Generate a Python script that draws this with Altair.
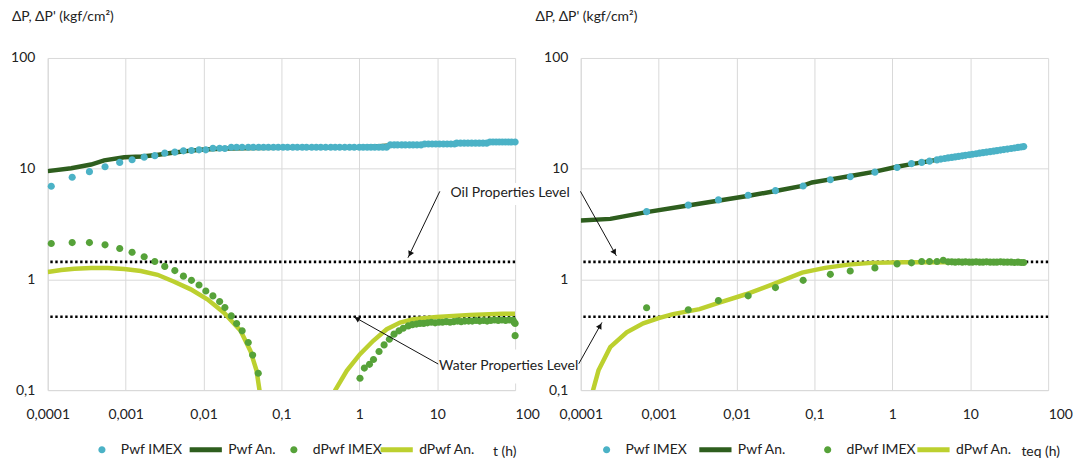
import altair as alt
import pandas as pd

FONT = "Lato, sans-serif"
SERIES = ["Pwf IMEX", "Pwf An.", "dPwf IMEX", "dPwf An."]
COLORS = ["#4BB2C6", "#2E5E1E", "#56A239", "#BCD02F"]
CIRCLE = "M0,-0.2A0.2,0.2 0 1,1 0,0.2A0.2,0.2 0 1,1 0,-0.2Z"
BAR = "M-1.1,-0.14L0.7,-0.14L0.7,0.14L-1.1,0.14Z"
X_TICKS = [0.0001, 0.001, 0.01, 0.1, 1, 10, 100]
Y_TICKS = [0.1, 1, 10, 100]
LEVELS = [1.44, 0.46]

# ---------------- left panel (t) ----------------
L_PWF_IMEX_T = [1.11e-4, 2.06e-4, 3.43e-4, 5.44e-4, 8.39e-4, 1.21e-3, 1.73e-3, 2.37e-3, 3.18e-3,
                4.28e-3, 5.52e-3, 7.0e-3, 8.75e-3, 0.0107, 0.0132, 0.0161, 0.0188, 0.0227, 0.0266,
                0.0313, 0.0375, 0.0434, 0.051, 0.059, 0.068, 0.079, 0.091, 0.105, 0.12, 0.14, 0.16,
                0.185, 0.21, 0.245, 0.28, 0.32, 0.37, 0.43, 0.49, 0.56, 0.65, 0.75, 0.86, 1.0, 1.12,
                1.26, 1.41, 1.58, 1.78, 2.0, 2.24, 2.5, 2.8, 3.1, 3.5, 3.9, 4.4, 4.9, 5.5, 6.2, 6.9,
                7.7, 8.6, 9.6, 10.7, 12, 13.4, 15, 16.7, 17.8, 19.9, 22.2, 24.8, 27.7, 31, 34.6,
                38.7, 43.2, 47.5, 52, 57, 62.5, 68.5, 75, 82, 90, 100]
L_PWF_IMEX_V = [6.94, 8.36, 9.4, 10.4, 11.4, 12.05, 12.7, 13.1, 13.8,
                14.1, 14.5, 14.6, 14.8, 14.8, 15.3, 15.3, 15.2, 15.6, 15.6,
                15.6, 15.6, 15.6, 15.6, 15.6, 15.6, 15.6, 15.6, 15.6, 15.6, 15.6, 15.6,
                15.6, 15.6, 15.6, 15.6, 15.6, 15.6, 15.6, 15.6, 15.6, 15.6, 15.6, 15.6, 15.6, 15.6,
                15.6, 15.6, 15.6, 15.6, 15.6, 15.6, 16.4, 16.4, 16.4, 16.4, 16.4, 16.4, 16.4, 16.4, 16.4, 16.7,
                16.7, 16.7, 16.7, 16.7, 16.7, 16.7, 16.7, 16.7, 17.0, 17.0, 17.0, 17.0, 17.0, 17.0, 17.0,
                17.0, 17.0, 17.4, 17.4, 17.4, 17.4, 17.4, 17.4, 17.4, 17.4, 17.4]

L_PWF_AN_T = [1e-4, 2e-4, 3.6e-4, 5.3e-4, 9.6e-4, 1.6e-3, 2.5e-3, 4e-3, 6e-3, 0.01, 0.02, 0.05,
              0.2, 1, 2.5, 7, 18, 47, 100]
L_PWF_AN_V = [9.5, 10.1, 10.9, 11.9, 12.7, 12.9, 13.3, 13.9, 14.4, 14.9, 15.2, 15.4,
              15.5, 15.5, 16.2, 16.6, 16.9, 17.3, 17.4]

L_DPWF_IMEX_T = [1.11e-4, 2.06e-4, 3.43e-4, 5.44e-4, 8.4e-4, 1.21e-3, 1.73e-3, 2.37e-3, 3.18e-3,
                 4.28e-3, 5.52e-3, 7.0e-3, 8.75e-3, 0.0107, 0.0132, 0.0161, 0.0188, 0.0227, 0.0266,
                 0.0313, 0.0375, 0.0427, 0.0504,
                 1.02, 1.16, 1.35, 1.52, 1.79, 2.08, 2.43, 2.79, 3.23, 3.66, 4.25,
                 4.8, 5.4, 6.0, 6.7, 7.5, 8.4, 9.4, 10.5, 11.7, 13.1, 14.6, 16.3, 18.2, 20.3, 22.7,
                 25.3, 28.2, 31.5, 35.1, 39.2, 43.7, 48.8, 54.4, 60.7, 67.7, 75.5, 84.2, 94, 97,
                 100, 100]
L_DPWF_IMEX_V = [2.11, 2.15, 2.15, 2.05, 1.90, 1.76, 1.60, 1.45, 1.31,
                 1.20, 1.07, 0.98, 0.89, 0.786, 0.709, 0.63, 0.556, 0.468, 0.399,
                 0.343, 0.269, 0.207, 0.142,
                 0.128, 0.158, 0.171, 0.189, 0.223, 0.256, 0.288, 0.32, 0.343, 0.362, 0.38,
                 0.39, 0.395, 0.40, 0.40, 0.405, 0.41, 0.405, 0.41, 0.41, 0.415, 0.41, 0.415, 0.42, 0.415, 0.42,
                 0.42, 0.42, 0.425, 0.42, 0.425, 0.42, 0.425, 0.43, 0.425, 0.43, 0.425, 0.43, 0.43, 0.41,
                 0.40, 0.31]

L_DPWF_AN_T = [1e-4, 1.49e-4, 2.2e-4, 3.6e-4, 5.9e-4, 9.6e-4, 1.57e-3, 2.57e-3, 4.2e-3, 6.86e-3,
               0.0112, 0.0183, 0.0299, 0.040, 0.0479, 0.0523, 0.056,
               0.45, 0.491, 0.692, 1.02, 1.51, 2.25, 3.33, 4.92, 9.8, 26.2, 69.8, 100]
L_DPWF_AN_V = [1.166, 1.215, 1.25, 1.27, 1.27, 1.24, 1.19, 1.10, 0.953, 0.813,
               0.66, 0.50, 0.343, 0.226, 0.15, 0.1, 0.075,
               0.08, 0.1, 0.15, 0.211, 0.279, 0.355, 0.407, 0.436, 0.458, 0.478, 0.49, 0.49]
L_DPWF_AN_SEG = [1] * 17 + [2] * 12

# ---------------- right panel (teq) ----------------
R_PWF_IMEX_T = [7.0e-4, 2.40e-3, 5.85e-3, 0.0141, 0.0316, 0.0716, 0.160, 0.288, 0.597, 1.15, 1.76,
                2.38, 3.0, 3.74, 4.2, 4.7, 5.2, 5.8, 6.4, 7.1, 7.9, 8.7, 9.7, 10.7, 11.9, 13.2,
                14.6, 16.2, 18, 20, 22, 24.5, 27, 30, 33.5, 37, 41, 45, 48.6]
R_PWF_IMEX_V = [4.09, 4.68, 5.22, 5.75, 6.33, 6.97, 7.95, 8.45, 9.3, 10.25, 11.1,
                11.4, 11.7, 12.0, 12.2, 12.36, 12.5, 12.64, 12.77, 12.9, 13.06, 13.2, 13.35, 13.5,
                13.64, 13.8, 13.94, 14.1, 14.25, 14.4, 14.55, 14.72, 14.88, 15.04, 15.22, 15.38,
                15.55, 15.7, 15.83]

R_PWF_AN_T = [1e-4, 2.4e-4, 7e-4, 2.38e-3, 6e-3, 0.0138, 0.0317, 0.07, 0.093, 0.16, 0.29, 0.6,
              1.15, 1.76, 3.0, 4.9, 13, 48.6]
R_PWF_AN_V = [3.41, 3.52, 4.05, 4.65, 5.15, 5.66, 6.29, 7.0, 7.5, 8.0, 8.6, 9.4,
              10.4, 11.0, 11.7, 12.5, 13.9, 15.8]

R_DPWF_IMEX_T = [7.0e-4, 2.40e-3, 5.85e-3, 0.0141, 0.0316, 0.0716, 0.160, 0.288, 0.597, 1.15, 1.76,
                 2.38, 3.0, 3.74, 4.5, 5.2, 5.8, 6.4, 7.1, 7.9, 8.7, 9.7, 10.7, 11.9, 13.2,
                 14.6, 16.2, 18, 20, 22, 24.5, 27, 30, 33.5, 37, 41, 45, 48.6]
R_DPWF_IMEX_V = [0.554, 0.532, 0.644, 0.71, 0.843, 0.98, 1.11, 1.19, 1.27, 1.38, 1.41,
                 1.45, 1.45, 1.45, 1.49, 1.44, 1.44, 1.43, 1.44, 1.43, 1.44, 1.43, 1.43, 1.44, 1.43,
                 1.43, 1.44, 1.43, 1.43, 1.43, 1.44, 1.43, 1.43, 1.43, 1.42, 1.43, 1.42, 1.42]

R_DPWF_AN_T = [1.3e-4, 1.44e-4, 1.69e-4, 2.39e-4, 3.89e-4, 6.35e-4, 1.0e-3, 1.53e-3, 3.35e-3,
               6.0e-3, 0.0132, 0.029, 0.0694, 0.137, 0.273, 0.54, 1.44, 5, 48.6]
R_DPWF_AN_V = [0.075, 0.1, 0.151, 0.244, 0.333, 0.401, 0.447, 0.486, 0.538,
               0.618, 0.734, 0.902, 1.15, 1.27, 1.36, 1.41, 1.43, 1.43, 1.43]

# ---------------- annotations (in data units) ----------------
ANN_LABELS = ["Oil Properties Level", "Water Properties Level"]
ANN_T = [86.3, 82.6]
ANN_V = [6.04, 0.1636]
BOX_T1 = [16.8, 11.8]
BOX_T2 = [443, 577]
BOX_V1 = [4.71, 0.115]
BOX_V2 = [7.43, 0.233]

L_ARROW_T1 = [10.8, 10.3]
L_ARROW_V1 = [6.24, 0.172]
L_ARROW_T2 = [4.21, 0.841]
L_ARROW_V2 = [1.567, 0.462]
L_HEAD_T = [4.47, 0.932]
L_HEAD_V = [1.69, 0.443]
L_HEAD_ANGLE = [205.4, 299.3]

R_ARROW_T1 = [0.99e-4, 0.943e-4]
R_ARROW_V1 = [6.24, 0.173]
R_ARROW_T2 = [2.87e-4, 1.87e-4]
R_ARROW_V2 = [1.63, 0.409]
R_HEAD_T = [2.71e-4, 1.77e-4]
R_HEAD_V = [1.75, 0.38]
R_HEAD_ANGLE = [150.7, 29.2]

GRID = "#D9D9D9"


def enc_x(title, title_x):
    return alt.X(
        "t:Q",
        scale=alt.Scale(type="log", domain=[1e-4, 100], nice=False),
        axis=alt.Axis(
            values=X_TICKS,
            labelExpr="replace(toString(datum.value), '.', ',')",
            labelAlign={"condition": {"test": "datum.value >= 100", "value": "left"}, "value": "center"},
            ticks=False, grid=True, gridColor=GRID, domainColor=GRID,
            labelFont=FONT, labelFontSize=14, labelColor="#222222", labelPadding=18,
            labelFlush=False, labelOverlap=False,
            title=title, titleFont=FONT, titleFontSize=14, titleFontWeight="normal",
            titleColor="#222222", titleAlign="center", titleBaseline="middle",
            titleX=title_x, titleY=62,
        ),
    )


def enc_x_plain(field):
    return alt.X(field, scale=alt.Scale(type="log", domain=[1e-4, 100], nice=False))


def enc_y(title_x):
    return alt.Y(
        "v:Q",
        scale=alt.Scale(type="log", domain=[0.1, 100], nice=False),
        axis=alt.Axis(
            values=Y_TICKS,
            labelExpr="replace(toString(datum.value), '.', ',')",
            ticks=False, grid=True, gridColor=GRID, domainColor=GRID,
            labelFont=FONT, labelFontSize=14, labelColor="#222222", labelPadding=13,
            labelFlush=False, labelOverlap=False,
            title="ΔP, ΔP' (kgf/cm²)", titleFont=FONT, titleFontSize=14, titleFontWeight="normal",
            titleColor="#222222", titleAngle=0, titleAlign="left", titleBaseline="middle",
            titleX=title_x, titleY=-42,
        ),
    )


def enc_y_plain(field):
    return alt.Y(field, scale=alt.Scale(type="log", domain=[0.1, 100], nice=False))


def point_layer(ts, vs, names, colors, X, Y, legend_x, col_pad):
    leg = alt.Legend(
        title=None, orient="none", legendX=legend_x, legendY=376, direction="horizontal",
        symbolSize=1296, symbolStrokeWidth=0, labelOffset=1,
        labelFont=FONT, labelFontSize=14, labelColor="#222222", columnPadding=col_pad,
    )
    df = pd.DataFrame({"t": ts, "v": vs, "series": [names[0]] * len(ts)})
    return alt.Chart(df).mark_point(filled=True, size=1296, opacity=1).encode(
        x=X, y=Y,
        color=alt.Color("series:N", scale=alt.Scale(domain=names, range=colors), legend=leg),
        shape=alt.Shape("series:N", scale=alt.Scale(domain=names, range=[CIRCLE, BAR]), legend=leg),
    )


def panel(pi_t, pi_v, pa_t, pa_v, di_t, di_v, da_t, da_v, da_seg,
          x_title, x_title_x, y_title_x, legends,
          arrows, texts):
    X = enc_x(x_title, x_title_x)
    Y = enc_y(y_title_x)

    rules = alt.Chart(pd.DataFrame({"v": LEVELS})).mark_rule(
        color="black", strokeDash=[2.4, 2.6], strokeWidth=2.6
    ).encode(y=Y)

    pwf_an = alt.Chart(pd.DataFrame({"t": pa_t, "v": pa_v})).mark_line(
        color=COLORS[1], strokeWidth=4.5, clip=True
    ).encode(x=X, y=Y)

    dpwf_an = alt.Chart(pd.DataFrame({"t": da_t, "v": da_v, "seg": da_seg})).mark_line(
        color=COLORS[3], strokeWidth=4.5, clip=True
    ).encode(x=X, y=Y, detail="seg:N")

    (lx1, pad1), (lx2, pad2) = legends
    pts1 = point_layer(pi_t, pi_v, SERIES[0:2], COLORS[0:2], X, Y, lx1, pad1)
    pts2 = point_layer(di_t, di_v, SERIES[2:4], COLORS[2:4], X, Y, lx2, pad2)

    layers = [rules, pwf_an, dpwf_an, pts1, pts2]

    a_t1, a_v1, a_t2, a_v2, h_t, h_v, h_ang = arrows
    arrow_lines = alt.Chart(pd.DataFrame({"t1": a_t1, "v1": a_v1, "t2": a_t2, "v2": a_v2})).mark_rule(
        color="#111111", strokeWidth=1
    ).encode(x=enc_x_plain("t1:Q"), y=enc_y_plain("v1:Q"), x2="t2:Q", y2="v2:Q")
    heads = alt.Chart(pd.DataFrame({"t": h_t, "v": h_v, "ang": h_ang})).mark_point(
        shape="triangle-up", filled=True, color="#111111", size=40, opacity=1
    ).encode(x=enc_x_plain("t:Q"), y=enc_y_plain("v:Q"), angle=alt.Angle("ang:Q", scale=None))

    if texts:
        boxes = alt.Chart(pd.DataFrame({"t1": BOX_T1, "t2": BOX_T2, "v1": BOX_V1, "v2": BOX_V2})).mark_rect(
            color="white"
        ).encode(x=enc_x_plain("t1:Q"), x2="t2:Q", y=enc_y_plain("v1:Q"), y2="v2:Q")
        labels = alt.Chart(pd.DataFrame({"t": ANN_T, "v": ANN_V, "label": ANN_LABELS})).mark_text(
            font=FONT, fontSize=14, color="#222222", align="center", baseline="middle"
        ).encode(x=enc_x_plain("t:Q"), y=enc_y_plain("v:Q"), text="label:N")
        layers += [boxes, labels]

    layers += [arrow_lines, heads]
    return alt.layer(*layers).resolve_scale(
        color="independent", shape="independent"
    ).properties(width=470, height=334)


left = panel(L_PWF_IMEX_T, L_PWF_IMEX_V, L_PWF_AN_T, L_PWF_AN_V,
             L_DPWF_IMEX_T, L_DPWF_IMEX_V, L_DPWF_AN_T, L_DPWF_AN_V, L_DPWF_AN_SEG,
             "t (h)", 459, -36.5, ((36.5, 7), (229.5, -14)),
             (L_ARROW_T1, L_ARROW_V1, L_ARROW_T2, L_ARROW_V2, L_HEAD_T, L_HEAD_V, L_HEAD_ANGLE),
             True)
right = panel(R_PWF_IMEX_T, R_PWF_IMEX_V, R_PWF_AN_T, R_PWF_AN_V,
              R_DPWF_IMEX_T, R_DPWF_IMEX_V, R_DPWF_AN_T, R_DPWF_AN_V, [1] * len(R_DPWF_AN_T),
              "teq (h)", 462, -46, ((8, 12), (230.3, 1)),
              (R_ARROW_T1, R_ARROW_V1, R_ARROW_T2, R_ARROW_V2, R_HEAD_T, R_HEAD_V, R_HEAD_ANGLE),
              False)

chart = alt.hconcat(left, right, spacing=66, bounds="flush").resolve_scale(
    color="independent", shape="independent", x="independent", y="independent"
).resolve_legend(
    color="independent", shape="independent"
).properties(
    padding={"left": 10, "top": 8, "right": 0, "bottom": 0},
    background="white",
).configure_view(stroke=None)

chart.save("out.html", embed_options={"renderer": "svg", "actions": False})
